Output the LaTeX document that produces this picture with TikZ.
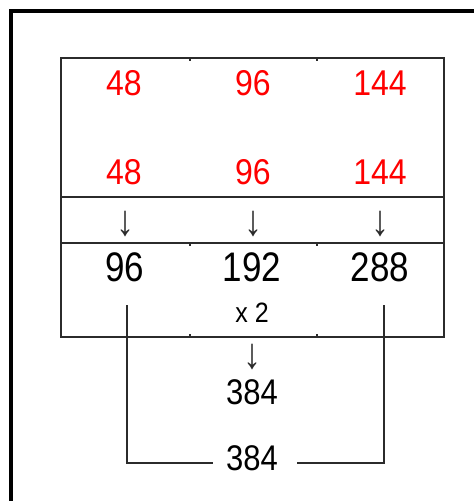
\documentclass[tikz,border=0pt]{standalone}
\usepackage{fontspec}
\setmainfont{Liberation Sans}
\usepackage{graphicx}
\definecolor{ink}{HTML}{2B2B2B}
\definecolor{redtxt}{HTML}{FF0000}
\tikzset{
  frameline/.style={line width=4pt, draw=black},
  tabline/.style={line width=1.1pt, draw=ink},
  conn/.style={line width=1.1pt, draw=ink},
  rednum/.style={inner sep=0pt, text=redtxt, font=\fontsize{32}{32}\selectfont},
  blknum/.style={inner sep=0pt, text=black, font=\fontsize{35}{35}\selectfont},
  midnum/.style={inner sep=0pt, text=black, font=\fontsize{31}{31}\selectfont},
  smalltxt/.style={inner sep=0pt, text=black, font=\fontsize{25}{25}\selectfont},
  arr/.style={inner sep=0pt, text=ink, font=\fontsize{36}{36}\selectfont},
}
\newcommand{\vs}[2][1.12]{\scalebox{1}[#1]{#2}}
\begin{document}
\begin{tikzpicture}[x=1pt,y=-1pt]
\useasboundingbox (0,0) rectangle (474,501);
% frame
\draw[frameline] (11,501) -- (11,11) -- (474,11);
% table
\draw[tabline] (61,58) rectangle (444,337);
\draw[tabline] (61,197) -- (444,197);
\draw[tabline] (61,243) -- (444,243);
\foreach \x in {190,317} {
  \draw[tabline] (\x,58) -- (\x,61);
  \draw[tabline] (\x,243) -- (\x,246);
  \draw[tabline] (\x,337) -- (\x,334);
}
% red numbers
\node[rednum] (r11) at (124,83) {\vs{48}};
\node[rednum] (r12) at (253,83) {\vs{96}};
\node[rednum] (r13) at (380,83) {\vs{144}};
\node[rednum] (r21) at (124,172) {\vs{48}};
\node[rednum] (r22) at (253,172) {\vs{96}};
\node[rednum] (r23) at (380,172) {\vs{144}};
% arrows
\node[arr] (a1) at (125,224) {\vs[1.2]{↓}};
\node[arr] (a2) at (253,224) {\vs[1.2]{↓}};
\node[arr] (a3) at (380,224) {\vs[1.2]{↓}};
% black numbers
\node[blknum] (b1) at (124.5,267) {\vs[1.18]{96}};
\node[blknum] (b2) at (252,267) {\vs[1.18]{192}};
\node[blknum] (b3) at (380,267) {\vs[1.18]{288}};
\node[smalltxt] (x2) at (252,313) {\vs{x 2}};
% below
\node[arr] (a4) at (252,357) {\vs[1.2]{↓}};
\node[midnum] (s1) at (252,392) {\vs[1.15]{384}};
\node[midnum] (s2) at (252,458) {\vs[1.15]{384}};
% connectors
\coordinate (lt) at (127,305);
\coordinate (rt) at (384,305);
\coordinate (lb) at (213,463);
\coordinate (rb) at (297,463);
\draw[conn] (lt) |- (lb);
\draw[conn] (rt) |- (rb);
\end{tikzpicture}
\end{document}
